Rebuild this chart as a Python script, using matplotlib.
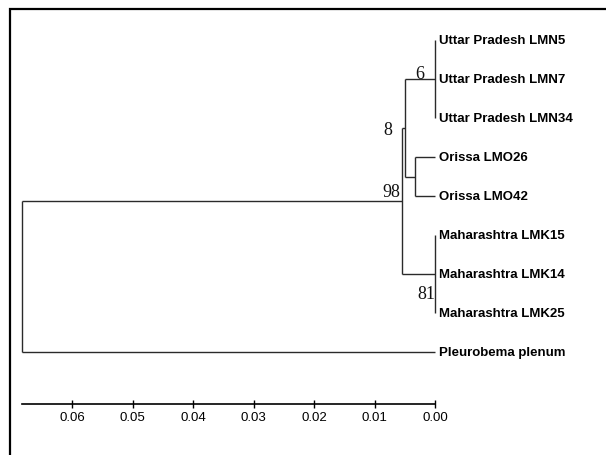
import matplotlib.pyplot as plt
from matplotlib.patches import Rectangle

# tips, top to bottom
tip_names = ["Uttar Pradesh LMN5", "Uttar Pradesh LMN7", "Uttar Pradesh LMN34",
             "Orissa LMO26", "Orissa LMO42",
             "Maharashtra LMK15", "Maharashtra LMK14", "Maharashtra LMK25",
             "Pleurobema plenum"]
tip_heights = [0.0] * len(tip_names)

# internal nodes: name -> (children, height, bootstrap)
node_names    = ["up", "or", "mh", "n8", "in", "root"]
node_children = [["t0", "t1", "t2"], ["t3", "t4"], ["t5", "t6", "t7"],
                 ["up", "or"], ["n8", "mh"], ["in", "t8"]]
node_heights  = [0.0, 0.0033, 0.0, 0.00496, 0.00545, 0.0683]
node_support  = ["6", "", "81", "8", "98", ""]

scale_ticks = [0.06, 0.05, 0.04, 0.03, 0.02, 0.01, 0.00]

# label placement (pixels) for the bootstrap values
support_offset = {"6": (-11, 1), "81": (0, -24), "8": (-13, -6), "98": (-2, 5)}

fig = plt.figure(figsize=(6.06, 4.56), dpi=100)
ax = fig.add_axes([0, 0, 1, 1])
ax.set_xlim(0.0719, -0.02826)
ax.set_ylim(10.641, -1.0513)

pos = {}
for i, h in enumerate(tip_heights):
    pos["t%d" % i] = (h, i)

line_kw = dict(color="#2a2a2a", lw=1.0, solid_capstyle="butt")
for name, kids, h, sup in zip(node_names, node_children, node_heights, node_support):
    ys = [pos[k][1] for k in kids]
    ax.plot([h, h], [min(ys), max(ys)], **line_kw)
    for k in kids:
        ax.plot([h, pos[k][0]], [pos[k][1], pos[k][1]], **line_kw)
    y = (min(ys) + max(ys)) / 2
    pos[name] = (h, y)
    if sup:
        dx, dy = support_offset[sup]
        ax.annotate(sup, xy=(h, y), xytext=(dx, dy), textcoords="offset pixels",
                    ha="right", va="baseline", fontsize=13,
                    family="Liberation Serif", color="#111111")

for i, name in enumerate(tip_names):
    ax.annotate(name, xy=(tip_heights[i], i), xytext=(4, 0),
                textcoords="offset pixels", ha="left", va="center",
                fontsize=9.5, fontweight="bold", family="Liberation Sans")

# scale bar as the bottom axis
for s in ["top", "left", "right"]:
    ax.spines[s].set_visible(False)
ax.spines["bottom"].set_position(("data", 9.34))
ax.spines["bottom"].set_bounds(0.0, 0.0683)
ax.spines["bottom"].set_linewidth(1.2)
ax.set_xticks(scale_ticks)
ax.set_xticklabels(["%.2f" % t for t in scale_ticks], family="Liberation Sans")
ax.tick_params(axis="x", direction="inout", length=6, width=1, labelsize=9.5, pad=2)
ax.set_yticks([])
ax.patch.set_visible(False)

# frame of the original picture (left and top edges only visible)
fig.add_artist(Rectangle((10 / 606, -0.2), 1.2, 1.2 - 10 / 456,
                         transform=fig.transFigure, fill=False,
                         lw=1.6, edgecolor="black"))

fig.savefig("out.png", dpi=100)
